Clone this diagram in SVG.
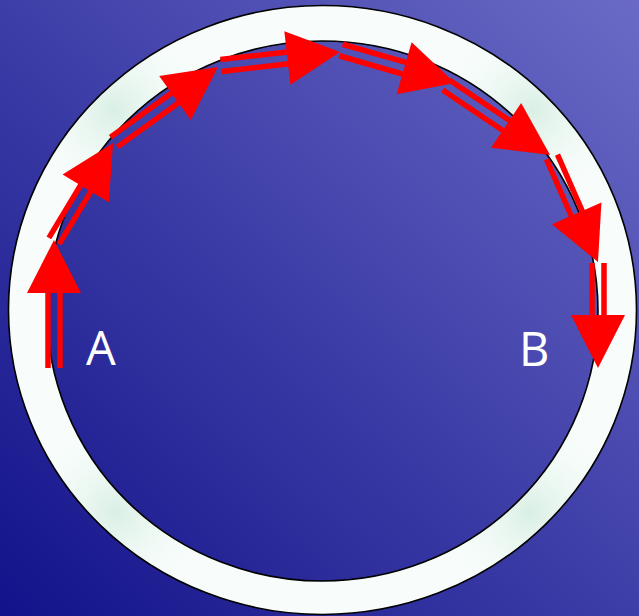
<svg xmlns="http://www.w3.org/2000/svg" width="639" height="616" viewBox="0 0 639 616">
<defs>
<linearGradient id="bg" x1="0" y1="1" x2="1" y2="0">
<stop offset="0" stop-color="#12128a"/>
<stop offset="0.5" stop-color="#3e3ea8"/>
<stop offset="1" stop-color="#6a6ac6"/>
</linearGradient>
<radialGradient id="tint">
<stop offset="0" stop-color="#d9efe4"/>
<stop offset="1" stop-color="#f8fdfb" stop-opacity="0"/>
</radialGradient>
<clipPath id="ringclip">
<path clip-rule="evenodd" d="M8.5,310 a314,304.5 0 1,0 628,0 a314,304.5 0 1,0 -628,0 Z M47,311 a275.5,270 0 1,0 551,0 a275.5,270 0 1,0 -551,0 Z"/>
</clipPath>
</defs>
<style>
.red line{stroke:#ff0000;stroke-width:5.5;stroke-linecap:butt}
.red polygon{fill:#ff0000}
.lbl{font-family:"Open Sans","Liberation Sans",sans-serif;font-size:47px;fill:#ffffff}
</style>
<rect width="639" height="616" fill="url(#bg)"/>
<g id="ring">
<path fill="#f8fdfb" fill-rule="evenodd" d="M8.5,310 a314,304.5 0 1,0 628,0 a314,304.5 0 1,0 -628,0 Z M47,311 a275.5,270 0 1,0 551,0 a275.5,270 0 1,0 -551,0 Z"/>
<g clip-path="url(#ringclip)">
<circle cx="114" cy="110" r="100" fill="url(#tint)"/>
<circle cx="532" cy="110" r="100" fill="url(#tint)"/>
<circle cx="116" cy="512" r="100" fill="url(#tint)"/>
<circle cx="530" cy="512" r="100" fill="url(#tint)"/>
</g>
<path fill="none" stroke="#000" stroke-width="1.6" d="M8.5,310 a314,304.5 0 1,0 628,0 a314,304.5 0 1,0 -628,0 Z M47,311 a275.5,270 0 1,0 551,0 a275.5,270 0 1,0 -551,0 Z"/>
</g>
<g id="label-A"><text class="lbl" x="86" y="365">A</text></g>
<g id="label-B"><text class="lbl" x="519" y="366">B</text></g>
<g id="connectors" class="red">
<g transform="translate(54 368) rotate(-90)"><line x1="0" y1="-6" x2="76" y2="-6"/><line x1="0" y1="6" x2="76" y2="6"/><polygon points="75,-27 128,0 75,27"/></g>
<g transform="translate(54 241) rotate(-58.9)"><line x1="0" y1="-6" x2="62.4" y2="-6"/><line x1="0" y1="6" x2="62.4" y2="6"/><polygon points="61.4,-27 114.4,0 61.4,27"/></g>
<g transform="translate(114 142) rotate(-35.8)"><line x1="0" y1="-6" x2="76.2" y2="-6"/><line x1="0" y1="6" x2="76.2" y2="6"/><polygon points="75.2,-27 128.2,0 75.2,27"/></g>
<g transform="translate(221 65.5) rotate(-6.47)"><line x1="0" y1="-6" x2="67.8" y2="-6"/><line x1="0" y1="6" x2="67.8" y2="6"/><polygon points="66.8,-27 119.8,0 66.8,27"/></g>
<g transform="translate(341 50) rotate(16.1)"><line x1="0" y1="-6" x2="66.7" y2="-6"/><line x1="0" y1="6" x2="66.7" y2="6"/><polygon points="65.7,-27 118.7,0 65.7,27"/></g>
<g transform="translate(446 85) rotate(33.9)"><line x1="0" y1="-6" x2="73.4" y2="-6"/><line x1="0" y1="6" x2="73.4" y2="6"/><polygon points="72.4,-27 125.4,0 72.4,27"/></g>
<g transform="translate(552 157) rotate(66.35)"><line x1="0" y1="-6" x2="62.6" y2="-6"/><line x1="0" y1="6" x2="62.6" y2="6"/><polygon points="61.6,-27 114.6,0 61.6,27"/></g>
<g transform="translate(598 263) rotate(90)"><line x1="0" y1="-6" x2="53" y2="-6"/><line x1="0" y1="6" x2="53" y2="6"/><polygon points="52,-27 105,0 52,27"/></g>
</g>
</svg>
